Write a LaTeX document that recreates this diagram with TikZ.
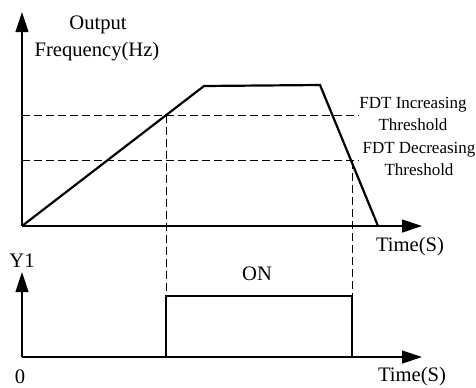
\documentclass[tikz,border=0pt]{standalone}
\usepackage{fontspec}
\setmainfont{Liberation Serif}
\usetikzlibrary{arrows.meta}

\begin{document}
\begin{tikzpicture}[x=0.5pt,y=0.5pt,
    font=\fontsize{10.3}{12}\selectfont,
    axis/.style={line width=0.6pt,-{Triangle[length=10pt,width=6.5pt]}},
    curve/.style={line width=1.1pt,line join=miter},
    guide/.style={line width=0.5pt,dash pattern=on 4pt off 2pt},
    level/.style={font=\fontsize{8.5}{10}\selectfont}]
        \useasboundingbox (0,0) rectangle (476,387);
        % upper plot
        \coordinate (fo) at (22,161);
        \coordinate (rise) at (204,301);
        \coordinate (fall) at (320,302);
        \coordinate (stop) at (378,161);
        \coordinate (up) at (166,272);
        \coordinate (down) at (352,226.5);
        \draw[guide] (22,272) -- (359,272);
        \draw[guide] (22,226.5) -- (359,226.5);
        \draw[guide] (up) -- (166,91);
        \draw[guide] (down) -- (352,91);
        \draw[axis] (fo) -- (22,375);
        \draw[axis] (fo) -- (422,161);
        \draw[curve] (fo) -- (rise) -- (fall) -- (stop);
        \node (out) at (98,362) {Output};
        \node (freq) at (97,335) {Frequency(Hz)};
        \node[level] (inc) at (413,282) {FDT Increasing};
        \node[level] (incth) at (413,262) {Threshold};
        \node[level] (dec) at (419,237) {FDT Decreasing};
        \node[level] (decth) at (419,217) {Threshold};
        \node (t1) at (410,140) {Time(S)};
        % lower plot
        \coordinate (yo) at (22,30);
        \draw[axis] (yo) -- (22,115);
        \draw[axis] (yo) -- (422,30);
        \draw[curve] (166,30) -- (166,91) -- (352,91) -- (352,30);
        \node (y1) at (22,126) {Y1};
        \node (on) at (257,113) {ON};
        \node (zero) at (20,10) {0};
        \node (t2) at (412,10) {Time(S)};
\end{tikzpicture}
\end{document}
